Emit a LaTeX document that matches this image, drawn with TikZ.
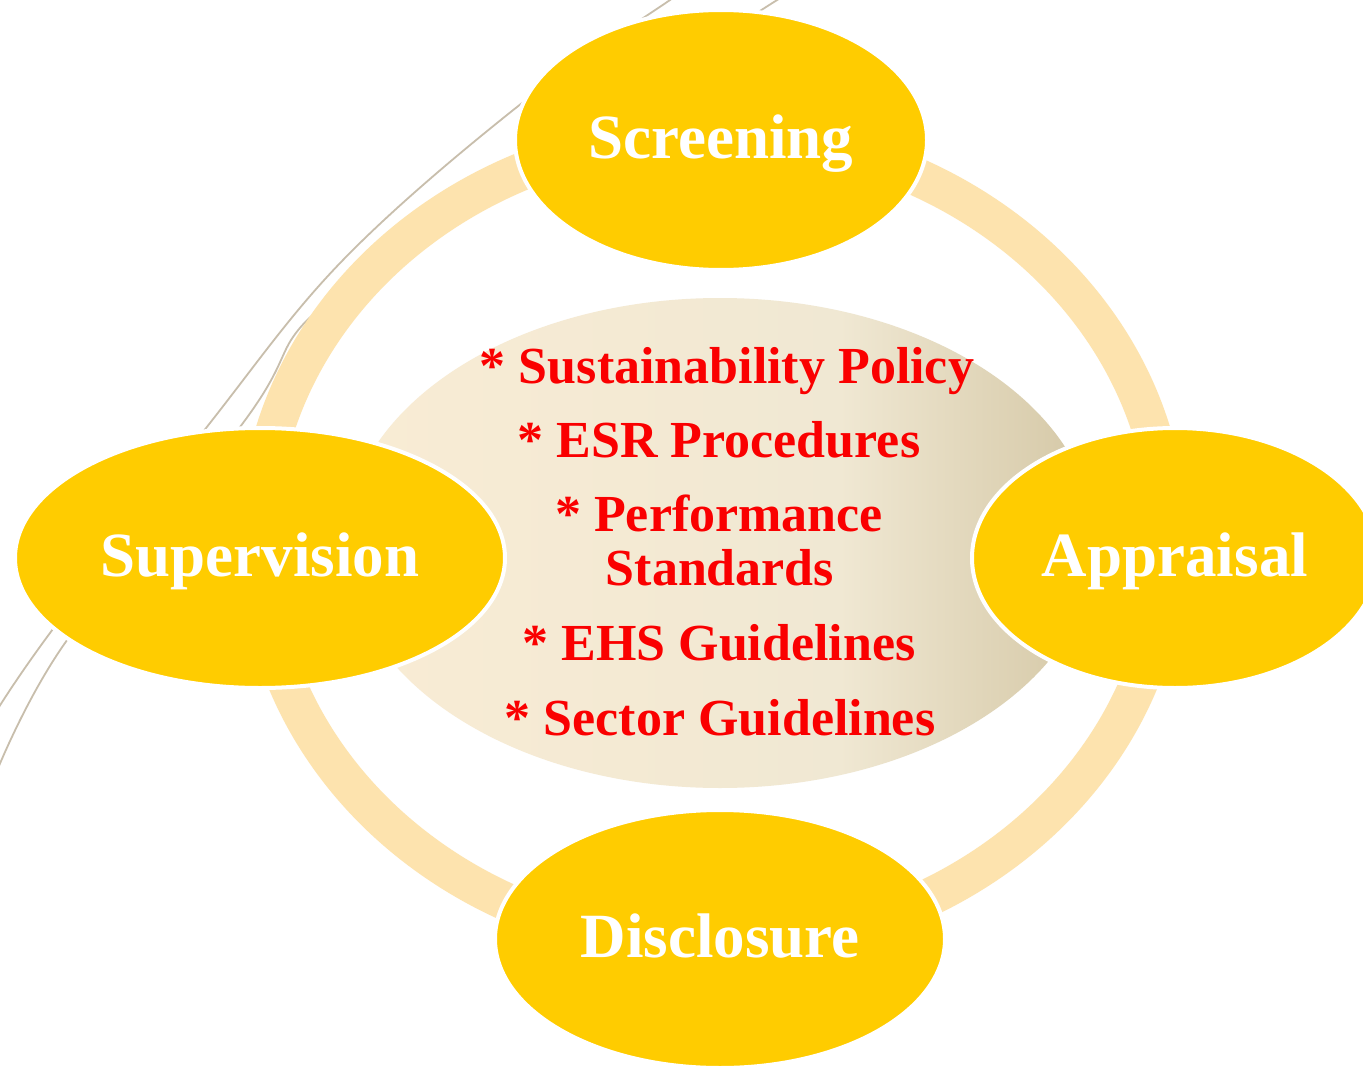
\documentclass[tikz,border=0pt]{standalone}
\usepackage{fontspec}
\setmainfont{Liberation Serif}
\usetikzlibrary{shapes.geometric}
\definecolor{gold}{RGB}{255,204,0}
\definecolor{ringc}{RGB}{253,227,174}
\definecolor{swoosh}{RGB}{200,190,172}
\definecolor{cL}{RGB}{249,236,212}
\definecolor{cM}{RGB}{240,232,211}
\definecolor{cR}{RGB}{212,199,165}
\definecolor{txtred}{RGB}{250,0,0}
\pgfdeclarehorizontalshading{centergrad}{100bp}{color(0bp)=(cL); color(25bp)=(cL); color(58bp)=(cM); color(75bp)=(cR); color(100bp)=(cR)}
\begin{document}
\begin{tikzpicture}[x=1pt,y=-1pt,
  stage/.style={ellipse, fill=gold, draw=white, line width=4pt, inner sep=0pt,
    text=white, font=\fontsize{63}{70}\selectfont\bfseries, text height=40pt, text depth=4pt},
  item/.style={anchor=base, text=txtred, font=\fontsize{52}{60}\selectfont\bfseries, inner sep=0pt},
  swooshline/.style={draw=swoosh, line width=1.8pt},
  ringline/.style={draw=ringc, line width=38pt}]
\fill[white] (0,0) rectangle (1363,1070);
\useasboundingbox (0,0) rectangle (1363,1070);
\clip (0,0) rectangle (1363,1070);
% decorative swoosh lines
\draw[swooshline] plot[smooth, tension=0.6] coordinates {(-6,715) (50,633) (210,423) (343,260) (517,107) (670,0) (690,-13)};
\draw[swooshline] plot[smooth, tension=0.6] coordinates {(-6,778) (65,643) (243,423) (293,337) (322,308)};
\draw[swooshline] (730,40) .. controls (745,20) .. (790,-8);
% ring
\coordinate (hub) at (713,540);
\draw[ringline] (hub) ellipse[x radius=455pt, y radius=406pt];
% central ellipse
\node[ellipse, shade, shading=centergrad, minimum width=750pt, minimum height=490pt, inner sep=0pt] (core) at (720,543) {};
% stage ellipses
\node[stage, minimum width=412pt, minimum height=260pt] (screening) at (721,140) {Screening};
\node[stage, minimum width=406pt, minimum height=260pt] (appraisal) at (1175,558) {Appraisal};
\node[stage, minimum width=450pt, minimum height=258pt] (disclosure) at (720,939) {Disclosure};
\node[stage, minimum width=490pt, minimum height=260pt] (supervision) at (260,558) {Supervision};
% central items
\node[item] (i1) at (727,383) {* Sustainability Policy};
\node[item] (i2) at (719,457) {* ESR Procedures};
\node[item] (i3) at (719,531) {* Performance};
\node[item] (i3b) at (720,585) {Standards};
\node[item] (i4) at (719,660) {* EHS Guidelines};
\node[item] (i5) at (720,735) {* Sector Guidelines};
\end{tikzpicture}
\end{document}
